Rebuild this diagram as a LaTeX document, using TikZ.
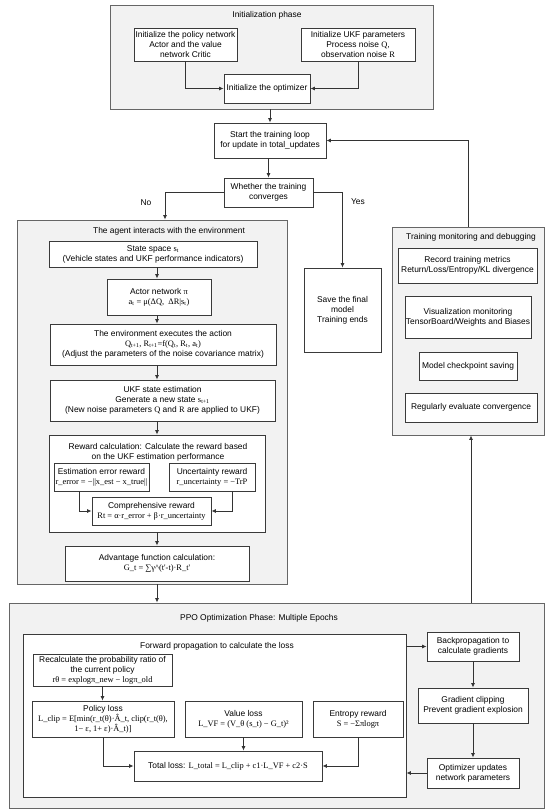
\documentclass[tikz,border=0pt]{standalone}
\usepackage{fontspec}
\setmainfont{Liberation Sans}
\newfontfamily\tms{Liberation Serif}
\usetikzlibrary{arrows.meta}
\definecolor{grpfill}{HTML}{F2F2F2}
\definecolor{grpline}{HTML}{666666}
\definecolor{boxline}{HTML}{3A3A3A}
\definecolor{arrline}{HTML}{333333}
\tikzset{
 grp/.style={draw=grpline, fill=grpfill, line width=0.9pt, inner sep=0pt},
 wgrp/.style={draw=boxline, fill=white, line width=0.9pt, inner sep=0pt},
 bx/.style={draw=boxline, fill=white, line width=0.9pt, align=center, inner sep=1pt, font=\fontsize{8.4}{10.1}\selectfont},
 ttl/.style={font=\fontsize{8.4}{10.1}\selectfont, align=center, inner sep=0pt},
 arr/.style={-{Latex[length=4.5pt,width=4pt]}, line width=0.8pt, draw=arrline},
}
\begin{document}
\begin{tikzpicture}[x=1pt,y=-1pt]
\useasboundingbox (0,0) rectangle (550,811);
% ---------- Initialization ----------
\node[grp, minimum width=323pt, minimum height=104pt] (init) at (271.5,57) {};
\node[ttl] (initT) at (267,15) {Initialization phase};
\node[bx, minimum width=103pt, minimum height=33pt] (pol) at (185.5,44.5) {Initialize the policy network\\Actor and the value\\network Critic};
\node[bx, minimum width=114pt, minimum height=33pt] (ukfp) at (358,44.5) {Initialize UKF parameters\\Process noise {\tms Q},\\observation noise {\tms R}};
\node[bx, minimum width=86pt, minimum height=29pt] (opt) at (267,88.5) {Initialize the optimizer};
\draw[arr] (pol.south) |- (opt.west);
\draw[arr] (ukfp.south) |- (opt.east);
% ---------- Loop ----------
\node[bx, minimum width=112pt, minimum height=35pt] (start) at (270,140.5) {Start the training loop\\for update in total\_updates};
\node[bx, minimum width=89pt, minimum height=29pt] (conv) at (268.5,192.5) {Whether the training\\converges};
\draw[arr] (start.north |- init.south) -- (start.north);
\draw[arr] (conv.north |- start.south) -- (conv.north);
% ---------- Agent ----------
\node[grp, minimum width=270pt, minimum height=364pt] (agent) at (152,402) {};
\node[ttl] (agentT) at (169,231) {The agent interacts with the environment};
\node[bx, minimum width=208pt, minimum height=26pt] (state) at (153,254) {State space {\tms s\textsubscript{t}}\\(Vehicle states and UKF performance indicators)};
\node[bx, minimum width=104pt, minimum height=36pt] (actor) at (159,297) {Actor network {\tms π}\\{\tms a\textsubscript{t} = μ(ΔQ,\ \ ΔR|s\textsubscript{t})}};
\node[bx, minimum width=226pt, minimum height=41pt] (env) at (163,344.5) {The environment executes the action\\{\tms Q\textsubscript{t+1}, R\textsubscript{t+1}=f(Q\textsubscript{t}, R\textsubscript{t}, a\textsubscript{t})}\\(Adjust the parameters of the noise covariance matrix)};
\node[bx, minimum width=225pt, minimum height=41pt] (ukfe) at (162.5,400.5) {UKF state estimation\\Generate a new state {\tms s\textsubscript{t+1}}\\(New noise parameters {\tms Q} and {\tms R} are applied to UKF)};
\node[wgrp, minimum width=216pt, minimum height=97pt] (rew) at (157,483.5) {};
\node[ttl] (rewT) at (158,452) {Reward calculation: Calculate the reward based\\on the UKF estimation performance};
\node[bx, minimum width=95pt, minimum height=28pt] (est) at (101.5,477) {Estimation error reward\\{\tms r\_error = −||x\_est − x\_true||}};
\node[bx, minimum width=86pt, minimum height=28pt] (unc) at (212,477) {Uncertainty reward\\{\tms r\_uncertainty = −TrP}};
\node[bx, minimum width=119pt, minimum height=28pt] (comp) at (151.5,511) {Comprehensive reward\\{\tms Rt = α·r\_error + β·r\_uncertainty}};
\coordinate (ex) at (79,0);
\coordinate (ux) at (232,0);
\draw[arr] (est.south -| ex) |- (comp.west);
\draw[arr] (unc.south -| ux) |- (comp.east);
\node[bx, minimum width=184pt, minimum height=35pt] (adv) at (157,563.5) {Advantage function calculation:\\{\tms G\_t = ∑γ\textasciicircum(t'-t)·R\_t'}};
\coordinate (ax) at (157,0);
\draw[arr] (ax |- state.south) -- (ax |- actor.north);
\draw[arr] (ax |- actor.south) -- (ax |- env.north);
\draw[arr] (ax |- env.south) -- (ax |- ukfe.north);
\draw[arr] (ax |- ukfe.south) -- (ax |- rew.north);
\draw[arr] (ax |- rew.south) -- (ax |- adv.north);
% No / Yes
\coordinate (nx) at (165,0);
\draw[arr] (conv.west) -| (nx |- agent.north);
\node[ttl] (noL) at (146,203) {No};
\node[bx, minimum width=77pt, minimum height=84pt] (save) at (342.5,310) {Save the final\\model\\Training ends};
\draw[arr] (conv.east) -| (save.north);
\node[ttl] (yesL) at (358,202) {Yes};
% ---------- Monitoring ----------
\node[grp, minimum width=152pt, minimum height=208pt] (mon) at (468,331) {};
\node[ttl] (monT) at (471,237) {Training monitoring and debugging};
\node[bx, minimum width=139pt, minimum height=35pt] (rec) at (467.5,265.5) {Record training metrics\\Return/Loss/Entropy/KL divergence};
\node[bx, minimum width=126pt, minimum height=42pt] (vis) at (468,317) {Visualization monitoring\\TensorBoard/Weights and Biases};
\node[bx, minimum width=98pt, minimum height=28pt] (ckpt) at (468,366) {Model checkpoint saving};
\node[bx, minimum width=132pt, minimum height=29pt] (reg) at (471,407.5) {Regularly evaluate convergence};
\draw[arr] (mon.north) |- (start.east);
% ---------- PPO ----------
\node[grp, minimum width=535pt, minimum height=205pt] (ppo) at (276.5,705.5) {};
\node[ttl] (ppoT) at (259,618) {PPO Optimization Phase: Multiple Epochs};
\node[wgrp, minimum width=383pt, minimum height=163pt] (fwd) at (214.5,715.5) {};
\node[ttl] (fwdT) at (217,646) {Forward propagation to calculate the loss};
\node[bx, minimum width=139pt, minimum height=32pt] (recalc) at (102.5,670) {Recalculate the probability ratio of\\the current policy\\{\tms rθ = explogπ\_new − logπ\_old}};
\node[bx, minimum width=142pt, minimum height=36pt] (pl) at (103,719) {Policy loss\\{\tms L\_clip = E[min(r\_t(θ)·Â\_t, clip(r\_t(θ),}\\{\tms 1− ε, 1+ ε)·Â\_t)]}};
\node[bx, minimum width=117pt, minimum height=36pt] (vl) at (243.5,719) {Value loss\\{\tms L\_VF = (V\_θ (s\_t) − G\_t)²}};
\node[bx, minimum width=90pt, minimum height=36pt] (er) at (358,719) {Entropy reward\\{\tms S = −Σπlogπ}};
\node[bx, minimum width=188pt, minimum height=30pt] (tot) at (228,766) {Total loss: {\tms L\_total = L\_clip + c1·L\_VF + c2·S}};
\draw[arr] (recalc.south) -- (recalc.south |- pl.north);
\draw[arr] (pl.south) |- (tot.west);
\draw[arr] (vl.south) -- (vl.south |- tot.north);
\draw[arr] (er.south) |- (tot.east);
\node[bx, minimum width=92pt, minimum height=29pt] (bp) at (473,646.5) {Backpropagation to\\calculate gradients};
\node[bx, minimum width=110pt, minimum height=35pt] (gc) at (473,705.5) {Gradient clipping\\Prevent gradient explosion};
\node[bx, minimum width=92pt, minimum height=30pt] (ou) at (473,773) {Optimizer updates\\network parameters};
\draw[arr] (fwd.east |- bp.west) -- (bp.west);
\draw[arr] (bp.south) -- (gc.north);
\draw[arr] (gc.south) -- (ou.north);
\draw[arr] (ou.west) -- (fwd.east |- ou.west);
% agent -> PPO, PPO -> monitoring
\draw[arr] (ax |- agent.south) -- (ax |- ppo.north);
\coordinate (mx) at (471,0);
\draw[arr] (mx |- ppo.north) -- (mx |- mon.south);
\end{tikzpicture}
\end{document}
